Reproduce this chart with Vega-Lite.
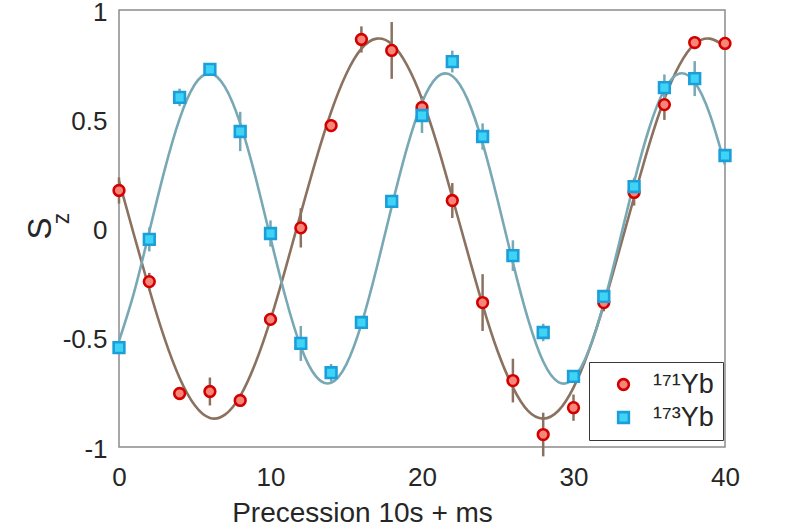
{
  "$schema": "https://vega.github.io/schema/vega-lite/v6.json",
  "autosize": "none",
  "width": 606,
  "height": 437,
  "padding": {"left": 119, "top": 10, "right": 69, "bottom": 82},
  "background": "white",
  "config": {
    "view": {"stroke": "#8c8c8c", "strokeWidth": 1.5},
    "font": "Liberation Sans",
    "axis": {"labelColor": "#262626", "titleColor": "#262626", "labelFont": "Liberation Sans", "titleFont": "Liberation Sans", "titleFontWeight": "normal", "grid": false, "domain": false, "ticks": false, "labelFlush": false}
  },
  "datasets": {
    "pts": [
      {"x": 0, "y": 0.174, "err": 0.06, "iso": "¹⁷¹Yb"},
      {"x": 2, "y": -0.243, "err": 0.04, "iso": "¹⁷¹Yb"},
      {"x": 4, "y": -0.755, "err": 0.02, "iso": "¹⁷¹Yb"},
      {"x": 6, "y": -0.746, "err": 0.064, "iso": "¹⁷¹Yb"},
      {"x": 8, "y": -0.787, "err": 0.03, "iso": "¹⁷¹Yb"},
      {"x": 10, "y": -0.416, "err": 0.03, "iso": "¹⁷¹Yb"},
      {"x": 12, "y": 0.003, "err": 0.09, "iso": "¹⁷¹Yb"},
      {"x": 14, "y": 0.471, "err": 0.03, "iso": "¹⁷¹Yb"},
      {"x": 16, "y": 0.865, "err": 0.06, "iso": "¹⁷¹Yb"},
      {"x": 18, "y": 0.815, "err": 0.13, "iso": "¹⁷¹Yb"},
      {"x": 20, "y": 0.554, "err": 0.05, "iso": "¹⁷¹Yb"},
      {"x": 22, "y": 0.128, "err": 0.08, "iso": "¹⁷¹Yb"},
      {"x": 24, "y": -0.339, "err": 0.13, "iso": "¹⁷¹Yb"},
      {"x": 26, "y": -0.696, "err": 0.1, "iso": "¹⁷¹Yb"},
      {"x": 28, "y": -0.943, "err": 0.1, "iso": "¹⁷¹Yb"},
      {"x": 30, "y": -0.82, "err": 0.06, "iso": "¹⁷¹Yb"},
      {"x": 32, "y": -0.339, "err": 0.04, "iso": "¹⁷¹Yb"},
      {"x": 34, "y": 0.165, "err": 0.06, "iso": "¹⁷¹Yb"},
      {"x": 36, "y": 0.567, "err": 0.07, "iso": "¹⁷¹Yb"},
      {"x": 38, "y": 0.851, "err": 0.03, "iso": "¹⁷¹Yb"},
      {"x": 40, "y": 0.847, "err": 0.03, "iso": "¹⁷¹Yb"},
      {"x": 0, "y": -0.545, "err": 0.03, "iso": "¹⁷³Yb"},
      {"x": 2, "y": -0.05, "err": 0.055, "iso": "¹⁷³Yb"},
      {"x": 4, "y": 0.6, "err": 0.04, "iso": "¹⁷³Yb"},
      {"x": 6, "y": 0.728, "err": 0.02, "iso": "¹⁷³Yb"},
      {"x": 8, "y": 0.444, "err": 0.09, "iso": "¹⁷³Yb"},
      {"x": 10, "y": -0.023, "err": 0.06, "iso": "¹⁷³Yb"},
      {"x": 12, "y": -0.526, "err": 0.08, "iso": "¹⁷³Yb"},
      {"x": 14, "y": -0.66, "err": 0.04, "iso": "¹⁷³Yb"},
      {"x": 16, "y": -0.43, "err": 0.03, "iso": "¹⁷³Yb"},
      {"x": 18, "y": 0.124, "err": 0.03, "iso": "¹⁷³Yb"},
      {"x": 20, "y": 0.517, "err": 0.08, "iso": "¹⁷³Yb"},
      {"x": 22, "y": 0.764, "err": 0.05, "iso": "¹⁷³Yb"},
      {"x": 24, "y": 0.421, "err": 0.06, "iso": "¹⁷³Yb"},
      {"x": 26, "y": -0.124, "err": 0.07, "iso": "¹⁷³Yb"},
      {"x": 28, "y": -0.476, "err": 0.04, "iso": "¹⁷³Yb"},
      {"x": 30, "y": -0.677, "err": 0.02, "iso": "¹⁷³Yb"},
      {"x": 32, "y": -0.311, "err": 0.03, "iso": "¹⁷³Yb"},
      {"x": 34, "y": 0.192, "err": 0.04, "iso": "¹⁷³Yb"},
      {"x": 36, "y": 0.645, "err": 0.06, "iso": "¹⁷³Yb"},
      {"x": 38, "y": 0.686, "err": 0.08, "iso": "¹⁷³Yb"},
      {"x": 40, "y": 0.334, "err": 0.03, "iso": "¹⁷³Yb"}
    ],
    "fit": [
      {"x": 0, "y": 0.218, "iso": "¹⁷¹Yb"},
      {"x": 1, "y": -0.032, "iso": "¹⁷¹Yb"},
      {"x": 2, "y": -0.278, "iso": "¹⁷¹Yb"},
      {"x": 3, "y": -0.502, "iso": "¹⁷¹Yb"},
      {"x": 4, "y": -0.684, "iso": "¹⁷¹Yb"},
      {"x": 5, "y": -0.809, "iso": "¹⁷¹Yb"},
      {"x": 6, "y": -0.867, "iso": "¹⁷¹Yb"},
      {"x": 7, "y": -0.852, "iso": "¹⁷¹Yb"},
      {"x": 8, "y": -0.767, "iso": "¹⁷¹Yb"},
      {"x": 9, "y": -0.617, "iso": "¹⁷¹Yb"},
      {"x": 10, "y": -0.417, "iso": "¹⁷¹Yb"},
      {"x": 11, "y": -0.181, "iso": "¹⁷¹Yb"},
      {"x": 12, "y": 0.069, "iso": "¹⁷¹Yb"},
      {"x": 13, "y": 0.314, "iso": "¹⁷¹Yb"},
      {"x": 14, "y": 0.533, "iso": "¹⁷¹Yb"},
      {"x": 15, "y": 0.707, "iso": "¹⁷¹Yb"},
      {"x": 16, "y": 0.823, "iso": "¹⁷¹Yb"},
      {"x": 17, "y": 0.869, "iso": "¹⁷¹Yb"},
      {"x": 18, "y": 0.844, "iso": "¹⁷¹Yb"},
      {"x": 19, "y": 0.749, "iso": "¹⁷¹Yb"},
      {"x": 20, "y": 0.593, "iso": "¹⁷¹Yb"},
      {"x": 21, "y": 0.385, "iso": "¹⁷¹Yb"},
      {"x": 22, "y": 0.143, "iso": "¹⁷¹Yb"},
      {"x": 23, "y": -0.106, "iso": "¹⁷¹Yb"},
      {"x": 24, "y": -0.349, "iso": "¹⁷¹Yb"},
      {"x": 25, "y": -0.563, "iso": "¹⁷¹Yb"},
      {"x": 26, "y": -0.727, "iso": "¹⁷¹Yb"},
      {"x": 27, "y": -0.835, "iso": "¹⁷¹Yb"},
      {"x": 28, "y": -0.87, "iso": "¹⁷¹Yb"},
      {"x": 29, "y": -0.834, "iso": "¹⁷¹Yb"},
      {"x": 30, "y": -0.728, "iso": "¹⁷¹Yb"},
      {"x": 31, "y": -0.562, "iso": "¹⁷¹Yb"},
      {"x": 32, "y": -0.349, "iso": "¹⁷¹Yb"},
      {"x": 33, "y": -0.106, "iso": "¹⁷¹Yb"},
      {"x": 34, "y": 0.143, "iso": "¹⁷¹Yb"},
      {"x": 35, "y": 0.385, "iso": "¹⁷¹Yb"},
      {"x": 36, "y": 0.593, "iso": "¹⁷¹Yb"},
      {"x": 37, "y": 0.749, "iso": "¹⁷¹Yb"},
      {"x": 38, "y": 0.844, "iso": "¹⁷¹Yb"},
      {"x": 39, "y": 0.869, "iso": "¹⁷¹Yb"},
      {"x": 40, "y": 0.835, "iso": "¹⁷¹Yb"},
      {"x": 0, "y": -0.515, "iso": "¹⁷³Yb"},
      {"x": 1, "y": -0.291, "iso": "¹⁷³Yb"},
      {"x": 2, "y": -0.014, "iso": "¹⁷³Yb"},
      {"x": 3, "y": 0.265, "iso": "¹⁷³Yb"},
      {"x": 4, "y": 0.502, "iso": "¹⁷³Yb"},
      {"x": 5, "y": 0.659, "iso": "¹⁷³Yb"},
      {"x": 6, "y": 0.71, "iso": "¹⁷³Yb"},
      {"x": 7, "y": 0.647, "iso": "¹⁷³Yb"},
      {"x": 8, "y": 0.481, "iso": "¹⁷³Yb"},
      {"x": 9, "y": 0.238, "iso": "¹⁷³Yb"},
      {"x": 10, "y": -0.043, "iso": "¹⁷³Yb"},
      {"x": 11, "y": -0.317, "iso": "¹⁷³Yb"},
      {"x": 12, "y": -0.541, "iso": "¹⁷³Yb"},
      {"x": 13, "y": -0.677, "iso": "¹⁷³Yb"},
      {"x": 14, "y": -0.706, "iso": "¹⁷³Yb"},
      {"x": 15, "y": -0.623, "iso": "¹⁷³Yb"},
      {"x": 16, "y": -0.438, "iso": "¹⁷³Yb"},
      {"x": 17, "y": -0.183, "iso": "¹⁷³Yb"},
      {"x": 18, "y": 0.1, "iso": "¹⁷³Yb"},
      {"x": 19, "y": 0.367, "iso": "¹⁷³Yb"},
      {"x": 20, "y": 0.576, "iso": "¹⁷³Yb"},
      {"x": 21, "y": 0.693, "iso": "¹⁷³Yb"},
      {"x": 22, "y": 0.698, "iso": "¹⁷³Yb"},
      {"x": 23, "y": 0.592, "iso": "¹⁷³Yb"},
      {"x": 24, "y": 0.391, "iso": "¹⁷³Yb"},
      {"x": 25, "y": 0.128, "iso": "¹⁷³Yb"},
      {"x": 26, "y": -0.156, "iso": "¹⁷³Yb"},
      {"x": 27, "y": -0.415, "iso": "¹⁷³Yb"},
      {"x": 28, "y": -0.609, "iso": "¹⁷³Yb"},
      {"x": 29, "y": -0.703, "iso": "¹⁷³Yb"},
      {"x": 30, "y": -0.686, "iso": "¹⁷³Yb"},
      {"x": 31, "y": -0.559, "iso": "¹⁷³Yb"},
      {"x": 32, "y": -0.343, "iso": "¹⁷³Yb"},
      {"x": 33, "y": -0.071, "iso": "¹⁷³Yb"},
      {"x": 34, "y": 0.212, "iso": "¹⁷³Yb"},
      {"x": 35, "y": 0.46, "iso": "¹⁷³Yb"},
      {"x": 36, "y": 0.635, "iso": "¹⁷³Yb"},
      {"x": 37, "y": 0.709, "iso": "¹⁷³Yb"},
      {"x": 38, "y": 0.669, "iso": "¹⁷³Yb"},
      {"x": 39, "y": 0.522, "iso": "¹⁷³Yb"},
      {"x": 40, "y": 0.292, "iso": "¹⁷³Yb"}
    ]
  },
  "layer": [
    {
      "data": {"name": "fit"},
      "transform": [{"filter": "datum.iso == '¹⁷¹Yb'"}],
      "mark": {"type": "line", "interpolate": "natural", "strokeWidth": 2.6, "color": "#8b7260", "clip": false},
      "encoding": {
        "x": {"field": "x", "type": "quantitative", "scale": {"domain": [0, 40], "nice": false},
              "axis": {"values": [0, 10, 20, 30, 40], "labelFontSize": 26, "labelPadding": 17, "title": "Precession 10s + ms", "titleFontSize": 28, "titlePadding": 9, "titleX": 243, "titleAnchor": "middle"}},
        "y": {"field": "y", "type": "quantitative", "scale": {"domain": [-1, 1], "nice": false},
              "axis": {"values": [-1, -0.5, 0, 0.5, 1], "labelExpr": "'' + datum.value", "labelFontSize": 26, "labelPadding": 12, "labelOffset": 2, "title": "S", "titleFontSize": 33, "titleAngle": -90, "titleX": -79, "titleY": 218, "titleAlign": "center", "titleBaseline": "middle"}}
      }
    },
    {
      "data": {"name": "fit"},
      "transform": [{"filter": "datum.iso == '¹⁷³Yb'"}],
      "mark": {"type": "line", "interpolate": "natural", "strokeWidth": 2.6, "color": "#79a8b5", "clip": false},
      "encoding": {
        "x": {"field": "x", "type": "quantitative"},
        "y": {"field": "y", "type": "quantitative", "scale": {"domain": [-1, 1], "nice": false}, "axis": null}
      }
    },
    {
      "data": {"name": "pts"},
      "transform": [{"filter": "datum.iso == '¹⁷¹Yb'"}],
      "mark": {"type": "errorbar", "thickness": 2.5, "color": "#8b7260", "clip": false},
      "encoding": {
        "x": {"field": "x", "type": "quantitative"},
        "y": {"field": "y", "type": "quantitative", "scale": {"domain": [-1, 1], "nice": false}, "axis": null},
        "yError": {"field": "err"}
      }
    },
    {
      "data": {"name": "pts"},
      "transform": [{"filter": "datum.iso == '¹⁷³Yb'"}],
      "mark": {"type": "errorbar", "thickness": 2.5, "color": "#79a8b5", "clip": false},
      "encoding": {
        "x": {"field": "x", "type": "quantitative"},
        "y": {"field": "y", "type": "quantitative", "scale": {"domain": [-1, 1], "nice": false}, "axis": null},
        "yError": {"field": "err"}
      }
    },
    {
      "data": {"name": "pts"},
      "mark": {"type": "point", "size": 115, "strokeWidth": 2.6, "opacity": 1, "fillOpacity": 1, "clip": false},
      "encoding": {
        "x": {"field": "x", "type": "quantitative"},
        "y": {"field": "y", "type": "quantitative", "scale": {"domain": [-1, 1], "nice": false},
              "axis": {"orient": "left", "labels": false, "ticks": false, "domain": false, "title": "z", "titleFontSize": 23, "titleAngle": -90, "titleX": -58, "titleY": 208, "titleAlign": "center", "titleBaseline": "middle"}},
        "fill": {"field": "iso", "type": "nominal", "scale": {"domain": ["¹⁷¹Yb", "¹⁷³Yb"], "range": ["#f7867a", "#3fd4f5"]},
                 "legend": {"orient": "none", "legendX": 470, "legendY": 352, "title": null, "strokeColor": "#3a3a3a", "fillColor": "white", "padding": 9, "labelFontSize": 27, "labelColor": "#262626", "labelFont": "Liberation Sans", "symbolSize": 115, "symbolStrokeWidth": 2.6, "rowPadding": 5, "symbolOffset": 12, "labelOffset": 16}},
        "stroke": {"field": "iso", "type": "nominal", "scale": {"domain": ["¹⁷¹Yb", "¹⁷³Yb"], "range": ["#d40000", "#1a9fdb"]}},
        "shape": {"field": "iso", "type": "nominal", "scale": {"domain": ["¹⁷¹Yb", "¹⁷³Yb"], "range": ["circle", "square"]}}
      }
    }
  ],
  "resolve": {"scale": {"y": "independent"}, "axis": {"y": "independent"}}
}
